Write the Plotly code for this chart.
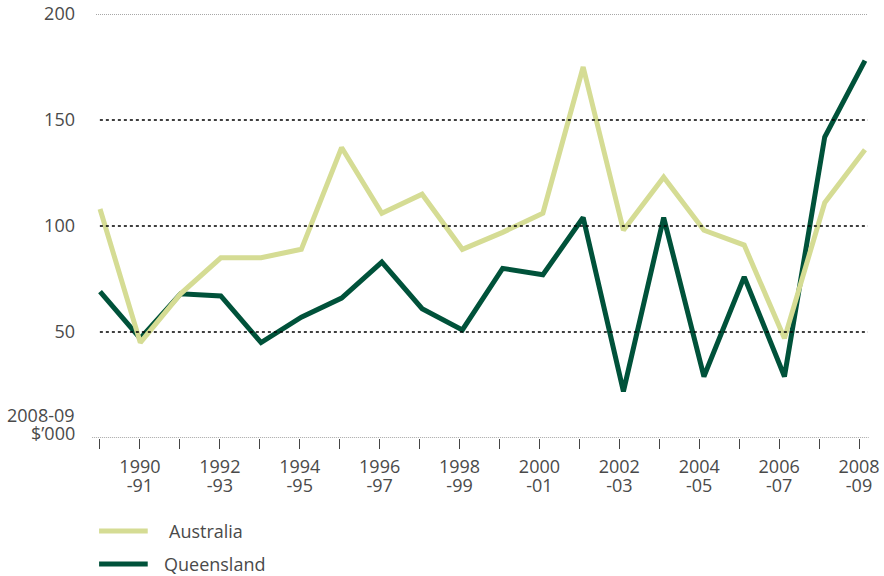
import plotly.graph_objects as go

# Financial years, 1989-90 to 2008-09
years = ["1989-90", "1990-91", "1991-92", "1992-93", "1993-94", "1994-95",
         "1995-96", "1996-97", "1997-98", "1998-99", "1999-00", "2000-01",
         "2001-02", "2002-03", "2003-04", "2004-05", "2005-06", "2006-07",
         "2007-08", "2008-09"]

# Values in 2008-09 $'000
australia = [108, 45, 68, 85, 85, 89, 137, 106, 115, 89, 97, 106,
             175, 98, 123, 98, 91, 47, 111, 136]
queensland = [69, 47, 68, 67, 45, 57, 66, 83, 61, 51, 80, 77,
              104, 22, 104, 29, 76, 29, 142, 178]

y_ticks = [50, 100, 150, 200]

AUS_COLOR = "#d5dc94"
QLD_COLOR = "#00523a"
TEXT_COLOR = "#4a4a4a"
FONT = "Open Sans"
FSIZE = 18

idx = list(range(len(years)))

fig = go.Figure()
fig.add_trace(go.Scatter(x=idx, y=queensland, mode="lines", name="Queensland",
                         line=dict(color=QLD_COLOR, width=5)))
fig.add_trace(go.Scatter(x=idx, y=australia, mode="lines", name="Australia",
                         line=dict(color=AUS_COLOR, width=5)))

# tick labels: every second year, split over two lines
top_text = [y.split("-")[0] if i % 2 == 1 else "" for i, y in enumerate(years)]
bot_vals = [i for i in idx if i % 2 == 1]
bot_text = ["-" + years[i].split("-")[1] for i in bot_vals]

# horizontal reference lines
shapes = []
for v in y_ticks:
    if v == 200:
        shapes.append(dict(type="line", xref="paper", yref="y", x0=0.0, x1=1.0,
                           y0=v, y1=v, line=dict(color="#8a8a8a", width=1.5, dash="1px,1px")))
    else:
        shapes.append(dict(type="line", xref="paper", yref="y", x0=0.005, x1=1.0,
                           y0=v, y1=v, line=dict(color="#000000", width=1.4, dash="3px,3px")))
shapes.append(dict(type="line", xref="paper", yref="y", x0=-0.005, x1=1.001,
                   y0=0, y1=0, line=dict(color="#8a8a8a", width=1.5, dash="1px,1px")))

# legend drawn beneath the chart
legend_items = [("Australia", AUS_COLOR, -0.2193, 0.0915),
                ("Queensland", QLD_COLOR, -0.2972, 0.0855)]
annotations = []
for name, color, ly, tx in legend_items:
    shapes.append(dict(type="line", xref="paper", yref="paper", x0=0.004, x1=0.067,
                       y0=ly, y1=ly, line=dict(color=color, width=5)))
    annotations.append(dict(xref="paper", yref="paper", x=tx, y=ly, text=name,
                            showarrow=False, xanchor="left", yanchor="middle",
                            font=dict(family=FONT, size=FSIZE, color=TEXT_COLOR)))

# unit label
annotations.append(dict(xref="paper", yref="paper", x=-0.0246, y=0.054, text="2008-09",
                        showarrow=False, xanchor="right", yanchor="middle",
                        font=dict(family=FONT, size=FSIZE, color=TEXT_COLOR)))
annotations.append(dict(xref="paper", yref="paper", x=-0.0246, y=0.0118, text="$\u2019000",
                        showarrow=False, xanchor="right", yanchor="middle",
                        font=dict(family=FONT, size=FSIZE, color=TEXT_COLOR)))

fig.update_layout(
    width=884, height=576,
    margin=dict(l=96, r=16, t=14, b=138, autoexpand=False),
    paper_bgcolor="white", plot_bgcolor="white",
    showlegend=False,
    font=dict(family=FONT, size=FSIZE, color=TEXT_COLOR),
    xaxis=dict(range=[-0.1, 19.075], visible=False, automargin=False),
    xaxis2=dict(overlaying="x", anchor="y", side="bottom", range=[-0.1, 19.225],
                tickmode="array", tickvals=idx, ticktext=top_text,
                ticks="outside", ticklen=10, tickcolor="#444444", tickwidth=1,
                ticklabelstandoff=2, automargin=False,
                showgrid=False, zeroline=False, showline=False,
                tickfont=dict(family=FONT, size=FSIZE, color=TEXT_COLOR)),
    xaxis3=dict(overlaying="x", anchor="y", side="bottom", range=[-0.1, 19.225],
                tickmode="array", tickvals=bot_vals, ticktext=bot_text,
                ticks="", ticklabelstandoff=35, automargin=False,
                showgrid=False, zeroline=False, showline=False,
                tickfont=dict(family=FONT, size=FSIZE, color=TEXT_COLOR)),
    yaxis=dict(range=[0, 200], tickmode="array", tickvals=y_ticks,
               showgrid=False, zeroline=False, showline=False, ticks="",
               ticklabelstandoff=20, automargin=False,
               tickfont=dict(family=FONT, size=FSIZE, color=TEXT_COLOR)),
    shapes=shapes,
    annotations=annotations,
)

# empty traces so the overlay axes are laid out
fig.add_trace(go.Scatter(x=[], y=[], xaxis="x2", yaxis="y", showlegend=False))
fig.add_trace(go.Scatter(x=[], y=[], xaxis="x3", yaxis="y", showlegend=False))

fig.write_html("out.html")
